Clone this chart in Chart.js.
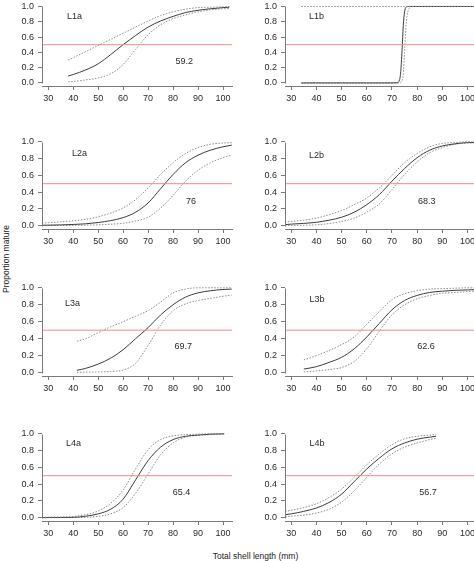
<!DOCTYPE html>
<html><head><meta charset="utf-8">
<script src="https://cdn.jsdelivr.net/npm/chart.js@4.4.1/dist/chart.umd.min.js"></script>
<style>
html,body{margin:0;padding:0;background:#fff;overflow:hidden;width:474px;height:561px;position:relative;}
canvas{position:absolute;}
.t{position:absolute;font:8.5px "Liberation Sans",Arial,sans-serif;color:#222;white-space:nowrap;}
#xt{left:255.5px;top:556px;transform:translate(-50%,-50%);}
#yt{left:5.5px;top:259px;transform:translate(-50%,-50%) rotate(-90deg);}
</style></head><body>
<div class="t" id="xt">Total shell length (mm)</div>
<div class="t" id="yt">Proportion mature</div>
<script>
// ---------- data ----------
const X_TICKS = [30, 40, 50, 60, 70, 80, 90, 100];
const Y_TICKS = [0, 0.2, 0.4, 0.6, 0.8, 1.0];
const Y_TICK_LABELS = ['0.0', '0.2', '0.4', '0.6', '0.8', '1.0'];
const CUTOFF = 0.5;
const PANEL_NAMES = ['L1a', 'L1b', 'L2a', 'L2b', 'L3a', 'L3b', 'L4a', 'L4b'];
const L50_LABELS = ['59.2', '', '76', '68.3', '69.7', '62.6', '65.4', '56.7'];

const L1a_x   = [38, 40, 45, 50, 55, 60, 65, 70, 75, 80, 85, 90, 95, 100, 102.5];
const L1a_fit = [0.09, 0.11, 0.17, 0.25, 0.37, 0.50, 0.62, 0.73, 0.81, 0.87, 0.92, 0.95, 0.97, 0.985, 0.99];
const L1a_hi  = [0.30, 0.33, 0.41, 0.49, 0.57, 0.65, 0.73, 0.81, 0.88, 0.93, 0.965, 0.985, 0.99, 0.995, 1.0];
const L1a_lo  = [0.015, 0.02, 0.04, 0.065, 0.12, 0.24, 0.44, 0.63, 0.76, 0.84, 0.89, 0.93, 0.955, 0.97, 0.975];

const L1b_x   = [34, 40, 50, 60, 70, 72, 73, 73.5, 74, 74.5, 75, 75.5, 76, 76.5, 77, 78, 80, 90, 100, 103.8];
const L1b_fit = [0, 0, 0, 0, 0, 0.003, 0.04, 0.15, 0.42, 0.75, 0.93, 0.985, 1, 1, 1, 1, 1, 1, 1, 1];
const L1b_hi  = [1, 1, 1, 1, 1, 1, 1, 1, 1, 1, 1, 1, 1, 1, 1, 1, 1, 1, 1, 1];
const L1b_lo  = [0, 0, 0, 0, 0, 0, 0, 0.005, 0.03, 0.12, 0.40, 0.70, 0.88, 0.95, 0.985, 1, 1, 1, 1, 1];

const L2a_x   = [27.5, 30, 35, 40, 45, 50, 55, 60, 65, 70, 75, 80, 85, 90, 95, 100, 103.5];
const L2a_fit = [0.005, 0.006, 0.009, 0.014, 0.022, 0.037, 0.06, 0.095, 0.16, 0.27, 0.44, 0.61, 0.75, 0.84, 0.90, 0.94, 0.96];
const L2a_hi  = [0.03, 0.035, 0.045, 0.058, 0.075, 0.105, 0.15, 0.21, 0.31, 0.45, 0.61, 0.75, 0.86, 0.93, 0.97, 0.985, 0.99];
const L2a_lo  = [0, 0.001, 0.002, 0.003, 0.006, 0.01, 0.017, 0.028, 0.055, 0.10, 0.21, 0.36, 0.53, 0.66, 0.75, 0.81, 0.84];

const L2b_x   = [27.5, 30, 35, 40, 45, 50, 55, 60, 65, 70, 75, 80, 85, 90, 95, 100, 103.8];
const L2b_fit = [0.012, 0.018, 0.027, 0.04, 0.065, 0.10, 0.16, 0.25, 0.37, 0.53, 0.68, 0.81, 0.90, 0.95, 0.975, 0.99, 0.99];
const L2b_hi  = [0.04, 0.05, 0.065, 0.09, 0.13, 0.18, 0.25, 0.33, 0.45, 0.60, 0.75, 0.86, 0.94, 0.98, 0.99, 1.0, 1.0];
const L2b_lo  = [0, 0.002, 0.005, 0.01, 0.025, 0.05, 0.09, 0.16, 0.26, 0.43, 0.61, 0.76, 0.87, 0.93, 0.97, 0.985, 0.99];

const L3a_x   = [41.5, 45, 50, 55, 60, 65, 70, 75, 80, 85, 90, 95, 100, 103.5];
const L3a_fit = [0.027, 0.05, 0.10, 0.17, 0.27, 0.40, 0.53, 0.68, 0.80, 0.89, 0.94, 0.965, 0.98, 0.985];
const L3a_hi  = [0.37, 0.40, 0.47, 0.54, 0.60, 0.665, 0.73, 0.83, 0.94, 0.985, 1.0, 1.0, 1.0, 1.0];
const L3a_lo  = [0.004, 0.005, 0.008, 0.014, 0.03, 0.11, 0.32, 0.56, 0.73, 0.81, 0.85, 0.875, 0.90, 0.915];

const L3b_x   = [35, 40, 45, 50, 55, 60, 65, 70, 75, 80, 85, 90, 95, 100, 103.8];
const L3b_fit = [0.042, 0.07, 0.12, 0.18, 0.28, 0.42, 0.58, 0.74, 0.85, 0.91, 0.945, 0.96, 0.97, 0.975, 0.98];
const L3b_hi  = [0.15, 0.20, 0.26, 0.33, 0.42, 0.57, 0.72, 0.86, 0.93, 0.965, 0.985, 0.99, 0.995, 1.0, 1.0];
const L3b_lo  = [0.008, 0.02, 0.035, 0.06, 0.13, 0.28, 0.49, 0.68, 0.80, 0.87, 0.91, 0.935, 0.945, 0.955, 0.96];

const L4a_x   = [27.5, 30, 35, 40, 45, 50, 55, 60, 65, 70, 75, 80, 85, 90, 95, 100.5];
const L4a_fit = [0, 0.001, 0.002, 0.004, 0.017, 0.045, 0.10, 0.22, 0.45, 0.68, 0.84, 0.93, 0.97, 0.985, 0.995, 1.0];
const L4a_hi  = [0.005, 0.006, 0.008, 0.014, 0.035, 0.08, 0.17, 0.33, 0.58, 0.81, 0.93, 0.975, 0.99, 0.995, 1.0, 1.0];
const L4a_lo  = [0, 0, 0.001, 0.002, 0.004, 0.015, 0.045, 0.12, 0.29, 0.52, 0.75, 0.89, 0.96, 0.98, 0.99, 0.995];

const L4b_x   = [27.6, 30, 35, 40, 45, 50, 55, 60, 65, 70, 75, 80, 85, 87.5];
const L4b_fit = [0.035, 0.045, 0.075, 0.115, 0.18, 0.28, 0.43, 0.58, 0.71, 0.82, 0.89, 0.935, 0.96, 0.97];
const L4b_hi  = [0.075, 0.087, 0.12, 0.165, 0.24, 0.34, 0.48, 0.63, 0.76, 0.87, 0.94, 0.97, 0.985, 0.99];
const L4b_lo  = [0.012, 0.016, 0.03, 0.055, 0.10, 0.185, 0.32, 0.48, 0.64, 0.76, 0.84, 0.89, 0.93, 0.945];

// ---------- layout (not data) ----------
const COLS = [
  {L: 42, R: 232, min: 27.52, max: 103.6},
  {L: 285, R: 477, min: 27.54, max: 103.77}
];
const ROWS = [
  {T: 2, B: 86}, {T: 137, B: 229}, {T: 283, B: 376}, {T: 429, B: 521}
];
const Y_MIN = -0.04, Y_MAX = 1.04;
const NAME_POS = [[37.5,0.87],[37.1,0.87],[39.5,0.855],[37.1,0.84],[36.7,0.82],[37.3,0.865],[37.1,0.88],[37.3,0.88]];
const L50_POS  = [[84.5,0.285],null,[87.2,0.29],[83.8,0.285],[84.1,0.306],[83.5,0.31],[83.4,0.30],[84.3,0.30]];

const SERIES = [
  [L1a_x, L1a_fit, L1a_lo, L1a_hi],
  [L1b_x, L1b_fit, L1b_lo, L1b_hi],
  [L2a_x, L2a_fit, L2a_lo, L2a_hi],
  [L2b_x, L2b_fit, L2b_lo, L2b_hi],
  [L3a_x, L3a_fit, L3a_lo, L3a_hi],
  [L3b_x, L3b_fit, L3b_lo, L3b_hi],
  [L4a_x, L4a_fit, L4a_lo, L4a_hi],
  [L4b_x, L4b_fit, L4b_lo, L4b_hi]
];

const FONT_FAMILY = '"Liberation Sans", Arial, sans-serif';
const AXIS_COLOR = '#7a7a7a';
const TEXT_COLOR = '#2a2a2a';

const panelPlugin = {
  id: 'panelText',
  afterDatasetsDraw(chart, args, opts) {
    const {ctx, chartArea} = chart;
    const xs = chart.scales.x, ys = chart.scales.y;
    ctx.save();
    ctx.strokeStyle = AXIS_COLOR;
    ctx.lineWidth = 1;
    const ax = Math.round(chartArea.left) + 0.5;
    ctx.beginPath();
    ctx.moveTo(ax, Math.round(ys.getPixelForValue(Y_TICKS[Y_TICKS.length-1])) + 0.5);
    ctx.lineTo(ax, Math.round(ys.getPixelForValue(Y_TICKS[0])) + 0.5);
    ctx.stroke();
    ctx.font = '9px ' + FONT_FAMILY;
    ctx.fillStyle = TEXT_COLOR;
    ctx.textBaseline = 'middle';
    ctx.textAlign = 'left';
    ctx.fillText(opts.name, xs.getPixelForValue(opts.namePos[0]), ys.getPixelForValue(opts.namePos[1]));
    if (opts.l50 && opts.l50Pos) {
      ctx.textAlign = 'center';
      ctx.fillText(opts.l50, xs.getPixelForValue(opts.l50Pos[0]), ys.getPixelForValue(opts.l50Pos[1]));
    }
    ctx.restore();
  }
};

const Y_AXIS_W = 40, X_AXIS_H = 22, PAD_T = 8, PAD_R = 14;

PANEL_NAMES.forEach((name, i) => {
  const col = COLS[i % 2], row = ROWS[Math.floor(i / 2)];
  const [xv, fit, lo, hi] = SERIES[i];
  const cv = document.createElement('canvas');
  const left = col.L - Y_AXIS_W, top = row.T - PAD_T;
  const w = col.R - col.L + Y_AXIS_W + PAD_R, h = row.B - row.T + PAD_T + X_AXIS_H;
  cv.width = w; cv.height = h;
  cv.style.left = left + 'px'; cv.style.top = top + 'px';
  cv.style.width = w + 'px'; cv.style.height = h + 'px';
  document.body.appendChild(cv);

  const pts = arr => xv.map((x, k) => ({x: x, y: arr[k]}));
  const ciStyle = {borderColor: '#8c8c8c', borderWidth: 1, borderDash: [1.5, 1.5]};
  new Chart(cv, {
    type: 'line',
    data: {
      datasets: [
        {data: [{x: col.min, y: CUTOFF}, {x: col.max, y: CUTOFF}], borderColor: '#f08a8a', borderWidth: 1, tension: 0},
        Object.assign({data: pts(hi)}, ciStyle),
        {data: pts(fit), borderColor: '#3c3c3c', borderWidth: 1},
        Object.assign({data: pts(lo)}, ciStyle)
      ]
    },
    options: {
      responsive: false,
      animation: false,
      devicePixelRatio: 1,
      events: [],
      layout: {autoPadding: false, padding: {left: 0, top: PAD_T, right: PAD_R, bottom: 0}},
      elements: {point: {radius: 0}, line: {cubicInterpolationMode: 'monotone', fill: false}},
      plugins: {
        legend: {display: false},
        tooltip: {enabled: false},
        panelText: {name: name, namePos: NAME_POS[i], l50: L50_LABELS[i], l50Pos: L50_POS[i]}
      },
      scales: {
        x: {
          type: 'linear', min: col.min, max: col.max,
          afterBuildTicks: s => { s.ticks = X_TICKS.map(v => ({value: v})); },
          afterFit: s => { s.height = X_AXIS_H; },
          grid: {display: true, drawOnChartArea: false, drawTicks: true, tickLength: 4, color: AXIS_COLOR},
          border: {display: true, color: AXIS_COLOR, width: 1},
          ticks: {autoSkip: false, maxRotation: 0, padding: 3, color: TEXT_COLOR,
                  font: {family: FONT_FAMILY, size: 9}, callback: v => String(v)}
        },
        y: {
          type: 'linear', min: Y_MIN, max: Y_MAX,
          afterBuildTicks: s => { s.ticks = Y_TICKS.map(v => ({value: v})); },
          afterFit: s => { s.width = Y_AXIS_W; },
          grid: {display: true, drawOnChartArea: false, drawTicks: true, tickLength: 4, color: AXIS_COLOR},
          border: {display: false},
          ticks: {autoSkip: false, padding: 4, color: TEXT_COLOR,
                  font: {family: FONT_FAMILY, size: 9},
                  callback: (v, k) => Y_TICK_LABELS[k]}
        }
      }
    },
    plugins: [panelPlugin]
  });
});
</script>
</body></html>
